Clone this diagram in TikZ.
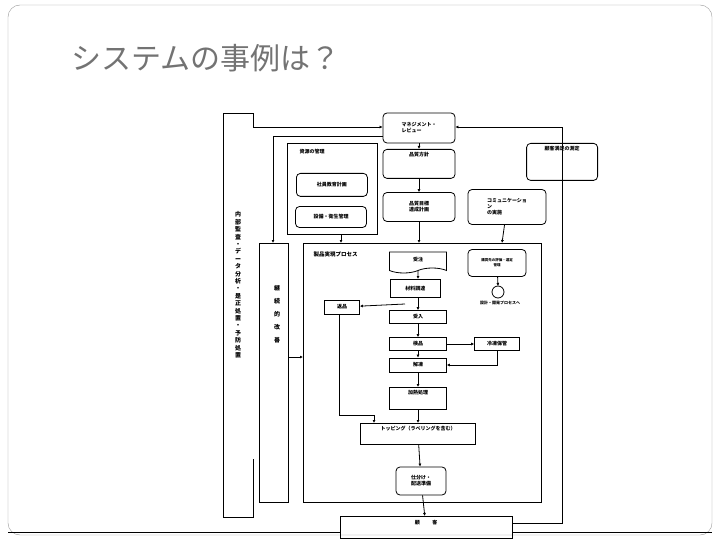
\documentclass[tikz,border=0pt]{standalone}
\usepackage{fontspec}
\setmainfont{Noto Sans CJK JP}
\usetikzlibrary{positioning,arrows.meta,calc,shapes.symbols}

\begin{document}
\begin{tikzpicture}[x=1pt,y=-1pt,
  box/.style = {draw, thick, rectangle, inner sep=1pt, font=\fontsize{5}{6}\selectfont\bfseries},
  rbox/.style = {box, rounded corners=4pt},
  flow/.style = {thick, -{Latex[length=3pt,width=3pt]}},
  link/.style = {thick},
]
  \useasboundingbox (0,0) rectangle (720,540);
  \draw[black!40, rounded corners=12pt] (8,5) rectangle (712,535);
  \node[anchor=west, text=black!55, font=\fontsize{30}{34}\selectfont] (title) at (68,58) {システムの事例は？};

  % side frames
  \draw[link] (253,127) -- (253,113) -- (223,113) -- (223,517) -- (253,517) -- (253,459);
  \draw[link] (259,243) rectangle (288,502);
  \draw[link] (303,243) rectangle (541,502);
  \draw[link] (287,143) rectangle (377,234);
  \node[font=\fontsize{6}{7.4}\selectfont\bfseries, align=center] (audit) at (238,285)
    {内\\部\\監\\査\\・\\デ\\ー\\タ\\分\\析\\・\\是\\正\\処\\置\\・\\予\\防\\処\\置};
  \node[font=\fontsize{6}{13}\selectfont\bfseries, align=center] (kaizen) at (277,314)
    {継\\続\\的\\改\\善};
  \node[anchor=north west, font=\fontsize{5}{6}\selectfont\bfseries] (resource) at (296,146) {資源の管理};
  \node[anchor=north west, font=\fontsize{5.5}{6}\selectfont\bfseries] (realize) at (310,248) {製品実現プロセス};

  % boxes
  \node[rbox, minimum width=72pt, minimum height=30pt, align=left] (review) at (419,128) {マネジメント・\\レビュー};
  \node[rbox, minimum width=72pt, minimum height=29pt, anchor=north, text depth=19pt] (policy) at (419,149) {品質方針};
  \node[rbox, minimum width=72pt, minimum height=29pt, align=center] (target) at (419,207) {品質目標\\達成計画};
  \node[rbox, minimum width=71pt, minimum height=23pt, anchor=north west] (educate) at (296,173) {社員教育計画};
  \node[rbox, minimum width=71pt, minimum height=21pt] (equip) at (331,217) {設備・衛生管理};
  \node[rbox, minimum width=71pt, minimum height=37pt, anchor=north east, text depth=27pt] (satisfy) at (598,143) {顧客満足の測定};
  \node[rbox, minimum width=78pt, minimum height=35pt, align=left] (comm) at (507,207) {コミュニケーショ\\ン\\の実施};
  \node[rbox, minimum width=58pt, minimum height=27pt, align=center, font=\fontsize{3.5}{5}\selectfont\bfseries] (supplier) at (497,263) {購買先の評価・選定\\管理};
  \draw[thick] (498,292) circle (6);
  \node[font=\fontsize{4}{5}\selectfont\bfseries] (design) at (500,303) {設計・開発プロセスへ};

  \node[box, tape, tape bend top=none, minimum width=57pt, minimum height=21pt] (order) at (418,260) {受注};
  \node[box, minimum width=50pt, minimum height=18pt, anchor=north west] (buy) at (390,279) {材料調達};
  \node[box, minimum width=57pt, minimum height=13pt] (accept) at (418,317) {受入};
  \node[box, minimum width=35pt, minimum height=14pt] (back) at (342,307) {返品};
  \node[box, minimum width=57pt, minimum height=13pt] (inspect) at (418,344) {検品};
  \node[box, minimum width=45pt, minimum height=13pt] (frozen) at (497,344) {冷凍保管};
  \node[box, minimum width=57pt, minimum height=14pt] (thaw) at (418,365) {解凍};
  \node[box, minimum width=57pt, minimum height=22pt, anchor=north, text depth=13pt] (heat) at (418,387) {加熱処理};
  \node[box, minimum width=115pt, minimum height=21pt, anchor=north, text depth=11pt] (topping) at (418,423) {トッピング（ラベリングを含む）};
  \node[rbox, minimum width=50pt, minimum height=28pt, align=center] (sort) at (421,481) {仕分け・\\配送準備};
  \node[box, minimum width=172pt, minimum height=22pt, anchor=north, text depth=10pt] (customer) at (426,516) {顧\hspace{2.5em}客};

  % connectors
  \draw[flow] (253,127) -- (review.west |- 0,127);
  \draw[flow] (review.west |- 0,136) -| (273,243);
  \draw[flow] (customer.east |- 0,523) -| (562,127) -- (review.east |- 0,127);
  \draw[flow] (review) -- (policy);
  \draw[flow] (policy) -- (target);
  \draw[flow] (341,234) -- (341,243);
  \draw[flow] (target) -- (419,243);
  \draw[flow] (comm) -- (502,243);
  \draw[flow] (supplier) -- (498,286);
  \draw[flow] (288,357) -- (303,357);
  \draw[flow] (order) -- (buy.north -| order);
  \draw[flow] (buy.south -| order) -- (accept);
  \draw[flow] (405,304) -- (back);
  \draw[flow] (accept) -- (inspect);
  \draw[flow] (inspect) -- (frozen);
  \draw[flow] (inspect) -- (thaw);
  \draw[flow] (frozen.south) |- (thaw.east);
  \draw[flow] (thaw) -- (heat);
  \draw[flow] (heat) -- (topping);
  \draw[flow] (back.south -| 339,0) |- (374,415) -- (374,423);
  \draw[flow] (topping) -- (sort);
  \draw[flow] (sort) -- (customer);
  \draw[link] (8,532) -- (customer.west |- 0,532);
  \draw[link] (customer.east |- 0,532) -- (712,532);
\end{tikzpicture}
\end{document}
